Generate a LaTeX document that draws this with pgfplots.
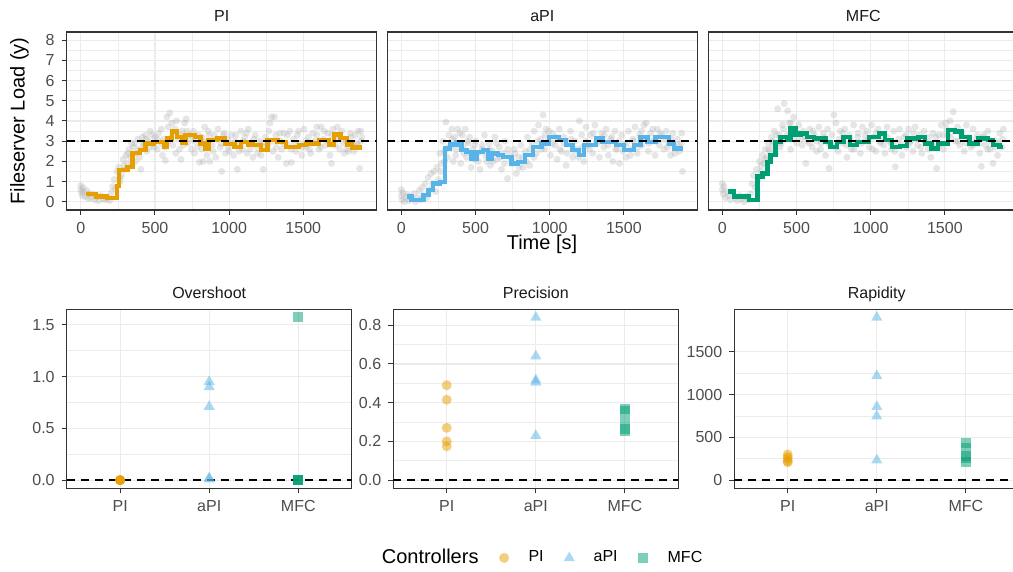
\documentclass[border=0pt]{standalone}
\usepackage{pgfplots}
\pgfplotsset{compat=1.18}
\usepackage{fontspec}
\setmainfont{Liberation Sans}
\definecolor{PIc}{HTML}{E69F00}
\definecolor{aPIc}{HTML}{56B4E9}
\definecolor{MFCc}{HTML}{009E73}
\pgfplotsset{
  base/.style={scale only axis, tick align=outside, tick pos=left,
    major tick length=2.5pt, minor tick length=0pt,
    axis line style={draw=black!80, line width=0.7pt},
    tick style={black!80, line width=0.5pt},
    grid=both, major grid style={black!8, line width=0.6pt},
    minor grid style={black!7, line width=0.3pt},
    tick label style={font=\fontsize{8}{9.6}\selectfont, text=black!70},
    /pgf/number format/assume math mode=true, /pgf/number format/1000 sep={},
    every axis title/.style={at={(0.5,1)}, anchor=base, yshift=5.2pt, font=\fontsize{8}{9.6}\selectfont, text=black!90, inner sep=0pt},
    clip=true, clip marker paths=true},
  topp/.style={base, width=155pt, height=89pt, xmin=-95, xmax=1995, ymin=-0.41, ymax=8.41,
    xtick={0,500,1000,1500}, ytick={0,1,2,3,4,5,6,7,8}, minor x tick num=1, minor y tick num=1},
  inner/.style={yticklabels={}, y tick style={draw=none}},
  botp/.style={base, width=142.5pt, height=89.5pt, xmin=0.4, xmax=3.6, xtick={1,2,3},
    xticklabels={PI,aPI,MFC}, minor x tick num=0, minor y tick num=1},
  grey/.style={only marks, mark=*, mark size=1.75pt, color=black!30, mark options={draw opacity=0, fill=black!30, fill opacity=0.33}},
  hl/.style={black, line width=0.8pt, dash pattern=on 4pt off 3pt, forget plot},
  ptPI/.style={only marks, mark=*, mark size=2.5pt, color=PIc, mark options={draw opacity=0, fill=PIc, fill opacity=0.5}},
  ptaPI/.style={only marks, mark=triangle*, mark size=3.2pt, color=aPIc, mark options={draw opacity=0, fill=aPIc, fill opacity=0.5}},
  ptMFC/.style={only marks, mark=square*, mark size=2.5pt, color=MFCc, mark options={draw opacity=0, fill=MFCc, fill opacity=0.5}},
}
\begin{document}
\begin{tikzpicture}
% ---------------- top row ----------------
\begin{axis}[topp, at={(33.35pt,181pt)}, anchor=south west, title={PI}]
\addplot[grey] coordinates {(0,0.8) (0,0.6) (5,0.45) (10,0.3) (15,0.7) (20,0.5) (30,0.25) (40,0.55) (50,0.15) (60,0.4) (70,0.2) (85,0.35) (95,0.1) (110,0.25) (120,0.05) (135,0.3) (150,0.15) (165,0.1) (180,0.2) (195,0.05) (205,0.45) (215,0.75) (225,1.1) (235,0.65) (245,1.5) (255,1.7) (265,1.0) (275,1.3) (285,2.1) (295,1.6) (305,2.3) (315,1.9) (325,2.6) (335,2.2) (345,1.8) (355,2.7) (365,2.9) (375,2.4) (385,3.1) (395,2.2) (405,1.6) (415,3.2) (425,2.8) (435,3.3) (445,2.5) (455,3.0) (465,2.7) (480,3.3) (490,2.9) (500,3.2) (515,2.6) (525,3.4) (540,2.9) (550,2.3) (560,3.1) (570,2.05) (580,4.2) (590,3.7) (600,4.4) (610,3.2) (620,2.8) (635,3.6) (645,4.0) (655,3.1) (665,2.6) (675,2.1) (685,3.5) (700,3.9) (710,4.1) (720,2.9) (735,3.3) (745,2.6) (760,3.5) (770,3.0) (785,2.7) (800,1.95) (815,3.2) (825,2.0) (835,3.7) (850,2.3) (860,3.5) (870,2.0) (885,2.8) (900,3.3) (910,2.2) (925,3.6) (940,2.7) (950,1.5) (960,3.3) (975,2.4) (990,3.1) (1000,2.5) (1015,3.3) (1030,2.3) (1040,3.0) (1055,1.6) (1065,2.8) (1080,3.5) (1090,2.6) (1105,3.2) (1120,2.4) (1130,3.6) (1145,2.9) (1160,2.2) (1175,3.3) (1190,2.7) (1205,3.0) (1215,2.3) (1230,1.6) (1245,3.2) (1260,2.8) (1275,3.9) (1285,4.2) (1295,2.5) (1305,4.2) (1315,3.3) (1330,2.2) (1345,3.0) (1355,2.6) (1370,3.4) (1385,1.9) (1395,2.8) (1410,3.5) (1420,1.95) (1435,3.1) (1450,2.5) (1460,3.3) (1475,2.9) (1490,2.3) (1505,3.6) (1520,2.7) (1535,3.2) (1550,2.4) (1565,3.4) (1580,3.0) (1590,3.7) (1605,2.6) (1620,3.7) (1635,3.1) (1650,2.8) (1665,3.4) (1680,2.3) (1690,1.9) (1700,3.6) (1715,3.2) (1730,3.7) (1745,2.6) (1760,3.5) (1775,2.4) (1790,3.0) (1805,2.5) (1820,3.2) (1835,2.8) (1850,3.3) (1860,2.9) (1870,3.5) (1880,1.65) (1890,3.0) (1895,3.2)
(262,1.2) (290,1.8) (318,2.4) (342,2.9) (368,2.0) (392,2.6) (418,2.9) (442,3.1) (468,3.5) (494,2.7) (518,3.1) (544,3.6) (566,2.7) (592,3.0) (614,3.9) (640,2.4) (668,3.3) (692,2.8) (716,3.5) (742,3.1) (766,2.4) (792,3.3) (818,2.6) (842,3.0) (866,3.3) (892,2.5) (918,3.1) (944,2.9) (968,3.4) (994,2.7) (1018,2.9) (1044,3.3) (1068,2.5) (1094,3.0) (1118,3.4) (1142,2.6) (1168,3.1) (1192,2.4) (1218,2.9) (1242,2.7) (1268,3.5) (1292,3.0) (1318,2.7) (1342,3.4) (1368,2.9) (1392,3.3) (1418,2.6) (1442,2.9) (1468,3.5) (1492,2.7) (1518,3.0) (1542,2.6) (1568,2.9) (1592,3.3) (1618,2.7) (1642,3.5) (1668,3.0) (1692,3.3) (1718,2.8) (1742,3.3) (1768,2.9) (1792,2.6) (1818,3.4) (1842,2.5) (1868,2.8) (1888,3.5)};
\addplot[const plot, PIc, line width=2.2pt] coordinates {(36,0.38) (102,0.25) (177,0.17) (243,0.79) (259,1.57) (315,1.73) (348,2.4) (400,2.55) (437,2.88) (493,2.97) (560,2.72) (582,3.14) (616,3.47) (650,3.22) (683,2.94) (705,3.3) (772,3.22) (806,2.88) (839,2.63) (862,3.05) (918,3.14) (974,2.85) (1037,2.72) (1082,2.97) (1126,2.84) (1160,2.8) (1216,2.55) (1260,3.05) (1327,2.97) (1383,2.72) (1472,2.8) (1517,2.88) (1606,3.05) (1673,2.84) (1707,3.34) (1751,3.17) (1796,2.84) (1829,2.69) (1896,2.69)};
\addplot[hl] coordinates {(-95,3) (1995,3)};
\end{axis}

\begin{axis}[topp, inner, at={(193.65pt,181pt)}, anchor=south west, title={aPI}]
\addplot[grey] coordinates {(0,0.6) (0,0.3) (5,0.1) (10,0.45) (20,0.0) (30,0.2) (40,0.35) (50,0.05) (60,0.25) (70,0.15) (85,0.4) (95,0.0) (110,0.2) (120,0.55) (130,0.1) (140,0.7) (150,0.3) (160,0.9) (170,0.2) (180,1.2) (190,0.6) (200,1.4) (210,0.9) (220,1.5) (230,0.5) (240,1.7) (250,1.1) (260,2.4) (270,1.9) (280,3.0) (290,2.5) (300,3.95) (310,2.2) (320,3.3) (330,2.7) (340,3.6) (350,2.0) (360,3.2) (370,2.6) (380,3.6) (390,2.9) (400,1.9) (410,3.3) (420,2.4) (430,3.6) (440,2.2) (450,2.9) (460,3.2) (470,1.7) (480,2.6) (490,2.1) (500,3.0) (515,2.4) (530,1.6) (545,2.8) (560,3.3) (575,2.0) (590,2.9) (600,1.8) (615,2.5) (630,3.2) (645,2.1) (660,2.7) (675,1.6) (690,2.4) (700,3.0) (715,1.15) (730,2.3) (745,1.9) (760,2.6) (775,1.4) (790,2.2) (805,2.8) (820,1.7) (835,2.5) (850,3.2) (865,1.8) (880,2.9) (895,3.5) (910,2.4) (925,3.8) (940,3.1) (955,4.3) (965,2.6) (975,3.6) (990,3.0) (1005,2.3) (1020,3.4) (1035,2.8) (1050,2.1) (1065,3.6) (1080,2.5) (1095,3.2) (1110,1.8) (1125,2.9) (1140,3.5) (1155,2.2) (1170,3.0) (1185,2.6) (1200,4.0) (1215,3.3) (1230,2.0) (1245,3.7) (1260,2.8) (1275,3.3) (1290,2.4) (1305,3.8) (1320,3.0) (1335,2.2) (1350,3.4) (1365,2.7) (1380,3.6) (1395,2.3) (1410,3.1) (1425,2.0) (1440,3.5) (1455,2.6) (1470,1.9) (1485,3.3) (1500,2.8) (1515,2.2) (1530,3.5) (1545,2.6) (1560,3.1) (1575,3.7) (1590,2.4) (1605,3.3) (1620,2.8) (1635,3.8) (1650,3.9) (1665,2.5) (1680,3.4) (1695,3.0) (1710,2.3) (1725,3.6) (1740,2.8) (1755,3.3) (1770,2.6) (1785,3.5) (1800,2.9) (1815,2.3) (1830,3.4) (1845,2.7) (1860,3.1) (1875,2.5) (1890,3.4) (1895,1.5)
(265,1.5) (292,2.0) (318,2.7) (344,3.1) (366,2.3) (394,3.4) (416,2.7) (444,3.0) (466,2.4) (494,2.8) (518,2.0) (542,2.6) (568,2.3) (594,2.6) (618,2.0) (642,2.9) (666,2.2) (694,1.9) (718,2.6) (742,2.1) (766,2.4) (794,1.7) (818,2.2) (842,2.0) (868,2.6) (894,2.2) (918,3.0) (944,2.6) (968,3.3) (994,3.5) (1018,2.9) (1044,3.2) (1068,2.6) (1094,2.9) (1118,2.4) (1144,3.1) (1168,2.5) (1194,2.2) (1218,2.7) (1244,3.0) (1268,2.6) (1294,3.4) (1318,2.9) (1344,3.1) (1368,3.3) (1394,2.8) (1418,3.2) (1444,2.6) (1468,3.0) (1494,2.5) (1518,2.9) (1544,2.3) (1568,3.0) (1594,2.7) (1618,3.5) (1644,3.1) (1668,2.9) (1694,3.6) (1718,3.0) (1744,3.4) (1768,3.1) (1794,2.7) (1818,3.1) (1844,2.4) (1868,2.8) (1888,2.9)};
\addplot[const plot, aPIc, line width=2.2pt] coordinates {(36,0.25) (69,0.08) (148,0.33) (182,0.58) (215,0.91) (260,0.99) (294,2.64) (327,2.84) (372,2.97) (406,2.55) (440,2.47) (473,2.15) (507,2.47) (552,2.55) (585,2.15) (608,2.39) (652,2.31) (686,2.22) (742,1.9) (787,1.98) (832,2.31) (888,2.72) (944,2.88) (997,3.22) (1064,3.05) (1109,2.8) (1154,2.55) (1199,2.31) (1232,2.8) (1311,3.17) (1356,2.97) (1445,2.8) (1501,2.55) (1568,2.8) (1613,3.22) (1658,2.97) (1714,3.22) (1804,2.88) (1837,2.64) (1900,2.64)};
\addplot[hl] coordinates {(-95,3) (1995,3)};
\end{axis}

\begin{axis}[topp, inner, at={(354.15pt,181pt)}, anchor=south west, title={MFC}]
\addplot[grey] coordinates {(0,0.9) (0,0.6) (5,0.4) (10,0.75) (20,0.2) (30,0.5) (40,0.3) (55,0.1) (70,0.45) (85,0.2) (100,0.05) (115,0.3) (130,0.15) (145,0.0) (160,0.25) (175,0.1) (190,0.4) (200,0.9) (210,1.3) (220,0.7) (230,1.6) (240,1.1) (250,2.0) (260,1.5) (270,2.3) (280,1.9) (290,2.6) (300,2.2) (310,2.9) (320,2.5) (330,3.2) (340,2.8) (350,3.5) (360,2.4) (373,4.6) (385,3.3) (395,2.9) (405,3.8) (417,4.87) (430,3.1) (440,4.5) (451,3.9) (460,2.6) (470,3.4) (480,4.2) (490,3.6) (500,2.9) (515,3.8) (530,3.1) (545,3.5) (562,1.9) (575,3.0) (590,3.6) (605,2.7) (620,3.3) (635,2.5) (650,3.7) (665,2.9) (680,3.4) (695,2.3) (710,3.6) (719,1.65) (735,2.8) (752,4.3) (765,3.9) (780,2.5) (795,3.5) (810,2.9) (825,3.6) (840,2.2) (855,3.3) (870,2.6) (885,3.8) (900,2.9) (915,3.4) (930,2.4) (945,3.7) (960,3.0) (975,3.5) (990,2.7) (1005,3.8) (1020,3.2) (1035,2.5) (1050,3.6) (1065,2.9) (1080,3.3) (1095,2.4) (1110,3.7) (1125,3.0) (1140,2.6) (1155,3.5) (1165,1.73) (1180,2.9) (1195,3.6) (1210,2.3) (1225,3.2) (1240,2.7) (1255,3.6) (1270,3.0) (1285,2.5) (1300,3.7) (1315,2.8) (1330,3.3) (1345,2.4) (1360,3.5) (1375,2.9) (1390,3.2) (1405,2.2) (1420,3.4) (1435,2.7) (1444,1.65) (1460,3.3) (1475,3.8) (1490,2.6) (1505,3.9) (1520,3.3) (1535,4.0) (1556,4.46) (1570,3.0) (1585,3.7) (1600,2.8) (1615,3.4) (1630,2.5) (1645,3.8) (1660,3.1) (1675,2.7) (1690,3.6) (1705,2.9) (1720,3.3) (1735,2.4) (1746,1.75) (1760,3.2) (1775,2.8) (1790,3.5) (1805,2.6) (1824,1.9) (1840,3.0) (1855,2.3) (1870,3.4) (1885,2.7) (1895,3.6)
(262,1.8) (288,2.1) (314,2.6) (338,3.0) (364,3.3) (388,2.7) (412,3.6) (436,3.3) (462,3.9) (486,3.1) (512,3.4) (538,2.8) (562,3.2) (588,2.9) (612,3.5) (636,3.0) (662,2.6) (688,3.2) (712,2.9) (738,3.3) (762,2.7) (788,3.1) (812,3.4) (838,2.8) (862,3.1) (888,2.6) (912,3.2) (938,2.9) (962,3.3) (988,3.1) (1012,2.6) (1038,3.4) (1062,3.0) (1088,2.8) (1112,3.2) (1138,2.9) (1162,2.5) (1188,3.1) (1212,2.8) (1238,3.3) (1262,2.9) (1288,3.4) (1312,3.1) (1338,2.7) (1362,3.0) (1388,2.6) (1412,2.9) (1438,3.2) (1462,2.8) (1488,3.3) (1512,3.6) (1538,3.2) (1562,3.5) (1588,3.0) (1612,3.3) (1638,2.9) (1662,3.2) (1688,2.8) (1712,3.1) (1738,2.9) (1762,3.3) (1788,2.6) (1812,3.0) (1838,2.7) (1862,2.9) (1888,3.1)};
\addplot[const plot, MFCc, line width=2.2pt] coordinates {(36,0.5) (80,0.25) (180,0.08) (236,1.24) (270,1.4) (303,1.98) (325,2.31) (359,2.97) (392,3.22) (437,3.05) (459,3.63) (493,3.3) (526,3.38) (571,3.22) (616,3.14) (694,2.97) (728,2.72) (772,2.97) (817,3.22) (862,2.8) (906,2.97) (987,3.22) (1054,3.38) (1098,3.05) (1143,2.72) (1199,2.76) (1243,3.14) (1321,3.22) (1366,2.89) (1411,2.64) (1455,2.89) (1522,3.55) (1567,3.47) (1612,3.22) (1667,2.89) (1723,3.14) (1790,3.05) (1824,2.8) (1868,2.72) (1895,2.72)};
\addplot[hl] coordinates {(-95,3) (1995,3)};
\end{axis}

\node[rotate=90, font=\fontsize{10}{12}\selectfont, inner sep=0pt] at (9.75pt,225.5pt) {Fileserver Load (y)};
\node[font=\fontsize{10}{12}\selectfont, inner sep=0pt] at (271pt,163.8pt) {Time [s]};

% ---------------- bottom row ----------------
\begin{axis}[botp, at={(33.35pt,41.85pt)}, anchor=south west, title={Overshoot},
  ymin=-0.0785, ymax=1.6485, ytick={0,0.5,1,1.5}, yticklabels={0.0,0.5,1.0,1.5}]
\addplot[hl] coordinates {(0.4,0) (3.6,0)};
\addplot[ptPI] coordinates {(1,0) (1,0) (1,0) (1,0) (1,0)};
\addplot[ptaPI] coordinates {(2,0.95) (2,0.90) (2,0.71) (2,0.02) (2,0.01)};
\addplot[ptMFC] coordinates {(3,1.57) (3,0) (3,0) (3,0) (3,0)};
\end{axis}

\begin{axis}[botp, at={(196.65pt,41.85pt)}, anchor=south west, title={Precision},
  ymin=-0.042, ymax=0.882, ytick={0,0.2,0.4,0.6,0.8}, yticklabels={0.0,0.2,0.4,0.6,0.8},
  legend columns=-1,
  legend image code/.code={\path[draw=none, fill=none] (0pt,-3pt) rectangle (21pt,3pt); \draw[#1] plot coordinates {(10.8pt,0pt)};},
  legend style={at={(0.522,-0.389)}, anchor=center, draw=none, fill=none,
    font=\fontsize{8}{9.6}\selectfont}]
\addplot[hl] coordinates {(0.4,0) (3.6,0)};
\addlegendimage{empty legend}
\addlegendentry{\fontsize{10}{12}\selectfont Controllers}
\addplot[ptPI] coordinates {(1,0.49) (1,0.415) (1,0.27) (1,0.2) (1,0.175)};
\addlegendentry{PI}
\addplot[ptaPI] coordinates {(2,0.84) (2,0.64) (2,0.517) (2,0.505) (2,0.23)};
\addlegendentry{aPI}
\addplot[ptMFC] coordinates {(3,0.365) (3,0.355) (3,0.305) (3,0.265) (3,0.255)};
\addlegendentry{MFC}
\end{axis}

\begin{axis}[botp, at={(367.15pt,41.85pt)}, anchor=south west, title={Rapidity},
  ymin=-95, ymax=1995, ytick={0,500,1000,1500}]
\addplot[hl] coordinates {(0.4,0) (3.6,0)};
\addplot[ptPI] coordinates {(1,300) (1,270) (1,250) (1,220) (1,210)};
\addplot[ptaPI] coordinates {(2,1900) (2,1219) (2,857) (2,748) (2,234)};
\addplot[ptMFC] coordinates {(3,430) (3,370) (3,280) (3,260) (3,210)};
\end{axis}

\pgfresetboundingbox
\useasboundingbox (0,0) rectangle (506.5pt,286pt);
\end{tikzpicture}
\end{document}
